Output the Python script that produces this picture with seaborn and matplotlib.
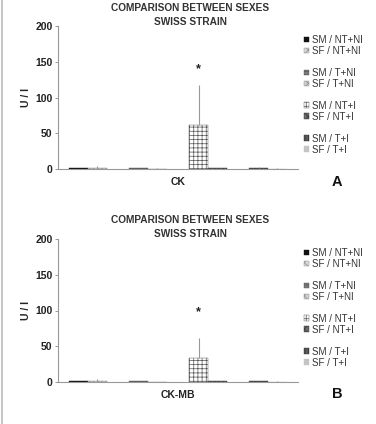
import pandas as pd
import matplotlib.pyplot as plt
import matplotlib.patches as mpatches
from matplotlib.lines import Line2D
import seaborn as sns

# data
groups = ['NT+NI', 'T+NI', 'NT+I', 'T+I']
sexes = ['SM', 'SF']
ck_mean = [1.2, 1.8, 0.8, 0.5, 62, 0.8, 1.5, 0.6]
ck_err = [0.5, 2.5, 0.4, 0.3, 55, 0.5, 0.8, 0.4]
ckmb_mean = [0.8, 1.2, 0.7, 0.4, 33, 0.8, 0.9, 0.5]
ckmb_err = [0.4, 2.5, 0.3, 0.2, 29, 0.4, 0.6, 0.3]
star_ck = 140
star_ckmb = 98

# styles (order: group x sex)
faces = ['#111111', '#d8d8d8', '#7a7a7a', '#cfcfcf', '#ffffff', '#6a6a6a', '#5a5a5a', '#c4c4c4']
hatches = ['', 'xxxx', '-----', 'xxxx', '++++', 'xxxx', '|||||', '']
edges = ['#111111', '#8a8a8a', '#555555', '#8a8a8a', '#555555', '#333333', '#333333', '#c4c4c4']

sns.set_theme(style="white")
plt.rcParams['font.family'] = ['Liberation Sans', 'DejaVu Sans']
plt.rcParams['hatch.linewidth'] = 0.5

fig = plt.figure(figsize=(3.76, 4.24), dpi=100)
fig.patch.set_facecolor('white')


def draw_panel(bottom, means, errs, star, xlabel, letter, top_px):
    df = pd.DataFrame({
        'group': [g for g in groups for s in sexes],
        'sex': [s for g in groups for s in sexes],
        'value': means,
    })
    ax = fig.add_axes([58 / 376, bottom, 240 / 376, 143 / 424])
    sns.barplot(data=df, x='group', y='value', hue='sex', order=groups,
                hue_order=sexes, width=0.63, errorbar=None, ax=ax, legend=False)
    # patches come out hue-major: all SM then all SF
    bars = ax.patches
    for j, g in enumerate(groups):
        for k, s in enumerate(sexes):
            p = bars[k * len(groups) + j]
            i = j * 2 + k
            p.set_facecolor(faces[i])
            p.set_edgecolor(edges[i])
            p.set_hatch(hatches[i])
            p.set_linewidth(0.3)
            cx = p.get_x() + p.get_width() / 2
            ax.errorbar(cx, means[i], yerr=[[0], [errs[i]]], fmt='none',
                        ecolor='#999999', elinewidth=0.8, capsize=0)
            if i == 4:
                ax.text(cx, star, '*', ha='center', va='center',
                        fontsize=9, fontweight='bold', color='#222222')
    ax.set_ylim(0, 200)
    ax.set_xlim(-0.5, 3.5)
    ax.set_yticks([0, 50, 100, 150, 200])
    ax.set_yticklabels(['0', '50', '100', '150', '200'], fontsize=7.5,
                       fontweight='bold', color='#222222')
    ax.set_xticks([])
    ax.set_xlabel(xlabel, fontsize=7.5, fontweight='bold', color='#222222', labelpad=6)
    ax.set_ylabel('U / I', fontsize=7.5, fontweight='bold', color='#222222', labelpad=3)
    ax.tick_params(axis='y', which='both', left=True, length=2, width=0.6,
                   color='#888888', pad=2)
    for side in ['top', 'right']:
        ax.spines[side].set_visible(False)
    for side in ['left', 'bottom']:
        ax.spines[side].set_color('#999999')
        ax.spines[side].set_linewidth(0.8)
    ax.set_facecolor('white')

    # legend with blank spacer rows
    handles, labels = [], []
    for j, g in enumerate(groups):
        for k, s in enumerate(sexes):
            i = j * 2 + k
            handles.append(mpatches.Patch(facecolor=faces[i], edgecolor=edges[i],
                                          hatch=hatches[i], linewidth=0.3))
            labels.append(f'{s} / {g}')
        if j < len(groups) - 1:
            handles.append(Line2D([], [], color='none'))
            labels.append('')
    leg = ax.legend(handles, labels, loc='upper left', bbox_to_anchor=(1.0, 0.978),
                    frameon=False, fontsize=7, handlelength=0.55, handleheight=0.55,
                    handletextpad=0.25, labelspacing=0.1, borderaxespad=0.2)
    for t in leg.get_texts():
        t.set_color('#333333')

    fig.text(190 / 376, 1 - (top_px + 8) / 424, 'COMPARISON BETWEEN SEXES',
             ha='center', va='center', fontsize=7.3, fontweight='bold', color='#333333')
    fig.text(190 / 376, 1 - (top_px + 22) / 424, 'SWISS STRAIN',
             ha='center', va='center', fontsize=7.3, fontweight='bold', color='#333333')
    fig.text(337 / 376, 1 - (top_px + 182) / 424, letter,
             ha='center', va='center', fontsize=10.5, fontweight='bold', color='#111111')
    return ax


draw_panel((424 - 169) / 424, ck_mean, ck_err, star_ck, 'CK', 'A', 0)
draw_panel((424 - 382) / 424, ckmb_mean, ckmb_err, star_ckmb, 'CK-MB', 'B', 212)

# thin gray frame line on the left edge like the scanned page
fig.add_artist(Line2D([2 / 376, 2 / 376], [0, 1], color='#bbbbbb', linewidth=1.2))

plt.savefig('out.png', dpi=100)
